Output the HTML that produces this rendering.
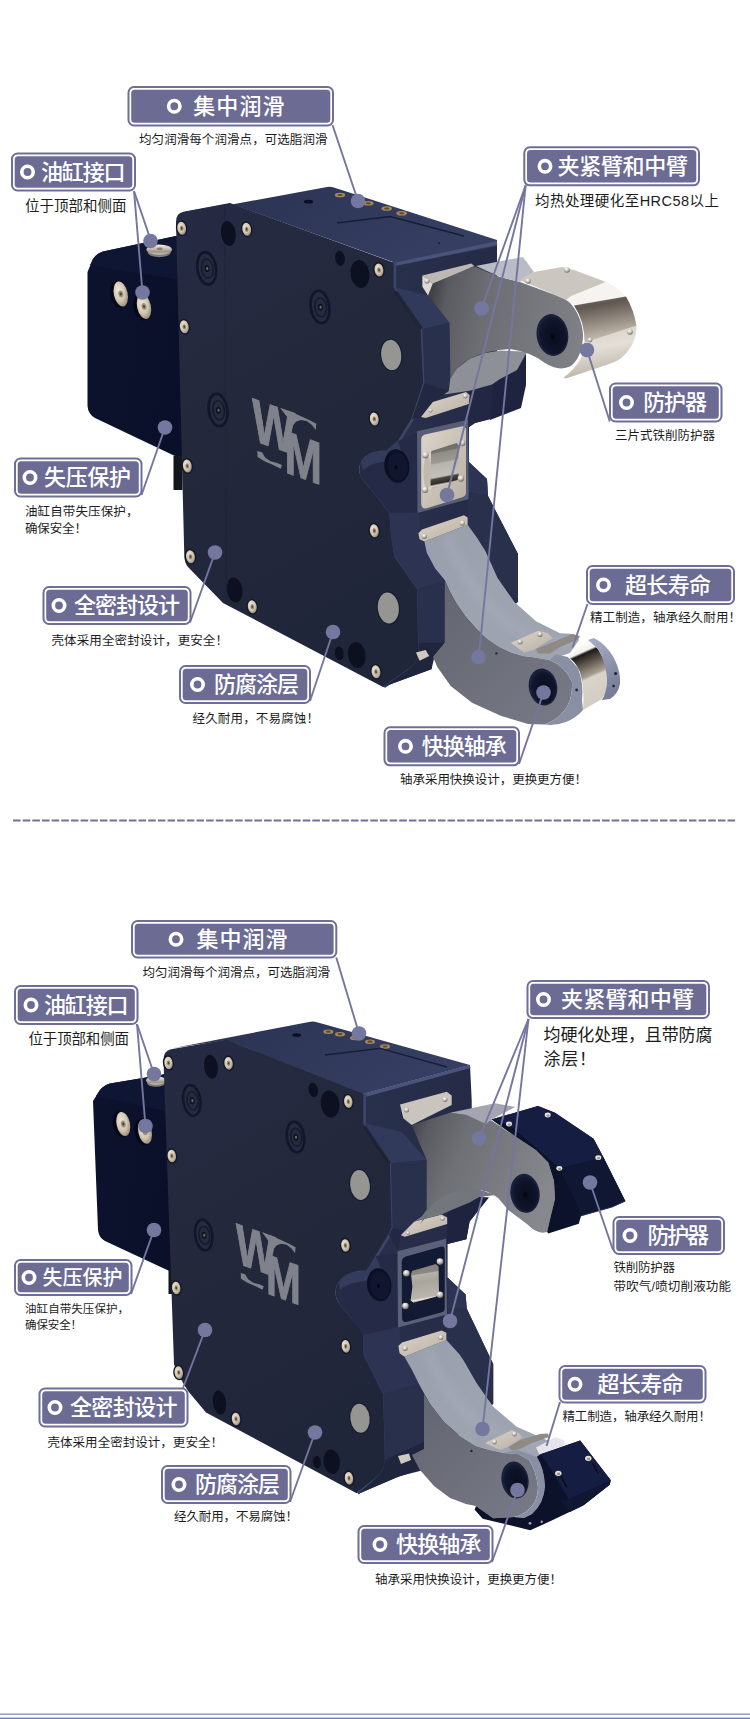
<!DOCTYPE html>
<html lang="zh"><head><meta charset="utf-8"><title>WM</title>
<style>
html,body{margin:0;padding:0;background:#fff}
body{width:750px;height:1719px;overflow:hidden;font-family:"Liberation Sans","Noto Sans CJK SC",sans-serif}
svg{display:block}
svg text{font-family:"Liberation Sans","Noto Sans CJK SC",sans-serif}
</style></head><body>
<svg width="750" height="1719" viewBox="0 0 750 1719">
<defs>
<linearGradient id="gFront" x1="0" y1="0" x2="0.3" y2="1">
 <stop offset="0" stop-color="#252b43"/><stop offset="0.5" stop-color="#23283b"/><stop offset="1" stop-color="#20263a"/>
</linearGradient>
<linearGradient id="gTop" x1="0" y1="0" x2="1" y2="0.3">
 <stop offset="0" stop-color="#293150"/><stop offset="1" stop-color="#363f62"/>
</linearGradient>
<linearGradient id="gSide" x1="0" y1="0" x2="1" y2="0">
 <stop offset="0" stop-color="#2a314e"/><stop offset="1" stop-color="#242a44"/>
</linearGradient>
<linearGradient id="gBlock" x1="0" y1="0" x2="1" y2="0.4">
 <stop offset="0" stop-color="#0d132e"/><stop offset="1" stop-color="#0a1029"/>
</linearGradient>
<linearGradient id="gSilverV" x1="0" y1="0" x2="0" y2="1">
 <stop offset="0" stop-color="#f4f1ec"/><stop offset="0.35" stop-color="#cfc8be"/><stop offset="0.7" stop-color="#9d9489"/><stop offset="1" stop-color="#c9c2b8"/>
</linearGradient>
<linearGradient id="gSilverH" x1="0" y1="0" x2="1" y2="0">
 <stop offset="0" stop-color="#8d857b"/><stop offset="0.3" stop-color="#e9e5de"/><stop offset="0.7" stop-color="#b9b1a6"/><stop offset="1" stop-color="#847b70"/>
</linearGradient>
<linearGradient id="gPlate" x1="0" y1="0" x2="1" y2="1">
 <stop offset="0" stop-color="#ddd5cb"/><stop offset="1" stop-color="#b9afa3"/>
</linearGradient>
<radialGradient id="gScrew" cx="0.4" cy="0.35" r="0.7">
 <stop offset="0" stop-color="#efe6d6"/><stop offset="0.6" stop-color="#d3c6b0"/><stop offset="1" stop-color="#8f8572"/>
</radialGradient>
<radialGradient id="gBall" cx="0.4" cy="0.3" r="0.7">
 <stop offset="0" stop-color="#ffffff"/><stop offset="0.5" stop-color="#c9c5bf"/><stop offset="1" stop-color="#6e6a66"/>
</radialGradient>
<linearGradient id="gArmU" gradientUnits="userSpaceOnUse" x1="430" y1="300" x2="585" y2="330">
 <stop offset="0" stop-color="#3f4147"/><stop offset="0.1" stop-color="#5a5c62"/><stop offset="0.35" stop-color="#6c6e74"/><stop offset="1" stop-color="#7f8187"/>
</linearGradient>
<linearGradient id="gArmL" x1="0" y1="0" x2="1" y2="1">
 <stop offset="0" stop-color="#9a9fad"/><stop offset="0.5" stop-color="#9ea3b0"/><stop offset="1" stop-color="#9fa4b1"/>
</linearGradient>
<linearGradient id="gArmLF" x1="0" y1="0" x2="1" y2="1">
 <stop offset="0" stop-color="#62656f"/><stop offset="1" stop-color="#787b87"/>
</linearGradient>
<radialGradient id="gHole" cx="0.55" cy="0.55" r="0.6">
 <stop offset="0" stop-color="#0a0d1c"/><stop offset="0.7" stop-color="#0f142b"/><stop offset="1" stop-color="#151b36"/>
</radialGradient>
<filter id="soft" x="-5%" y="-5%" width="110%" height="110%"><feGaussianBlur stdDeviation="0.6"/></filter>
<filter id="soft2" x="-10%" y="-10%" width="120%" height="120%"><feGaussianBlur stdDeviation="1.5"/></filter>
<linearGradient id="gGuardD" x1="0" y1="0" x2="0.25" y2="1">
 <stop offset="0" stop-color="#8a8078"/><stop offset="0.25" stop-color="#5f564f"/><stop offset="0.7" stop-color="#9e958b"/><stop offset="1" stop-color="#c9c1b7"/>
</linearGradient>
<linearGradient id="gGuardL" x1="0" y1="0" x2="0.25" y2="1">
 <stop offset="0" stop-color="#d3ccc2"/><stop offset="0.5" stop-color="#e4dfd7"/><stop offset="1" stop-color="#bdb5aa"/>
</linearGradient>
<linearGradient id="gRoll" x1="0" y1="0" x2="0.12" y2="1">
 <stop offset="0" stop-color="#6a6965"/><stop offset="0.22" stop-color="#73726d"/><stop offset="0.25" stop-color="#8f8d87"/><stop offset="0.45" stop-color="#9c9a93"/><stop offset="0.48" stop-color="#b7b4ad"/><stop offset="0.76" stop-color="#c3c0b8"/><stop offset="0.8" stop-color="#4a4640"/><stop offset="0.9" stop-color="#2f2c28"/><stop offset="0.94" stop-color="#d8d4cc"/><stop offset="1" stop-color="#a59f95"/>
</linearGradient>
<linearGradient id="gRoll2" x1="0.2" y1="0" x2="0.45" y2="1">
 <stop offset="0" stop-color="#ffffff"/><stop offset="0.2" stop-color="#f4f2ee"/><stop offset="0.235" stop-color="#1e1a17"/><stop offset="0.42" stop-color="#6f665d"/><stop offset="0.56" stop-color="#a89f94"/><stop offset="0.6" stop-color="#d9d3ca"/><stop offset="1" stop-color="#d2cbc1"/>
</linearGradient>
<linearGradient id="gCap" x1="0" y1="0" x2="0.3" y2="1">
 <stop offset="0" stop-color="#a9b0c6"/><stop offset="1" stop-color="#767e98"/>
</linearGradient>
<filter id="soft3" x="-20%" y="-20%" width="140%" height="140%"><feGaussianBlur stdDeviation="4"/></filter>
<clipPath id="clipArmL1"><path d="M424.4,541.6 L467.6,524.8 L477.2,538 L485.6,551.6 L497.6,578 L514.4,602 L536,621.2 L560,633.2 L574,634 L579,640 L570,653 L549.3,660 L533.3,657.3 L523.3,656 L510,652 L499.3,646.7 L487.3,638.7 L476.7,629.3 L466,617.3 L456.7,604 L450,592 L444.8,580 L435.2,568.4 L426.8,552.8 Z"/></clipPath>
<linearGradient id="gFront2" x1="0" y1="0" x2="0.3" y2="1">
 <stop offset="0" stop-color="#252b43"/><stop offset="0.5" stop-color="#23283b"/><stop offset="1" stop-color="#20263a"/>
</linearGradient>
<linearGradient id="gTop2" x1="0" y1="0" x2="1" y2="0.3">
 <stop offset="0" stop-color="#293150"/><stop offset="1" stop-color="#363f62"/>
</linearGradient>
<linearGradient id="gSide2" x1="0" y1="0" x2="1" y2="0">
 <stop offset="0" stop-color="#2a314e"/><stop offset="1" stop-color="#242a44"/>
</linearGradient>
<linearGradient id="gArmU2" gradientUnits="userSpaceOnUse" x1="410" y1="1130" x2="550" y2="1190">
 <stop offset="0" stop-color="#3f4147"/><stop offset="0.1" stop-color="#595b61"/><stop offset="0.35" stop-color="#6e7076"/><stop offset="1" stop-color="#86888e"/>
</linearGradient>
<linearGradient id="gRollB" x1="0" y1="0" x2="0.12" y2="1">
 <stop offset="0" stop-color="#82807a"/><stop offset="0.28" stop-color="#8a8882"/><stop offset="0.31" stop-color="#b5b2aa"/><stop offset="0.5" stop-color="#a8a59c"/><stop offset="0.9" stop-color="#bab6ad"/><stop offset="0.95" stop-color="#e8e5df"/><stop offset="1" stop-color="#8f8b83"/>
</linearGradient>

</defs>
<rect width="750" height="1719" fill="#fff"/>
<g id="m1">
<path d="M87.5,272 L87.5,406 Q88,414 95,418 L177,457 L186,461 L186,233 L176,236 L103,251.5 Q97,253 93,259 Z" fill="url(#gBlock)" />
<path d="M90,265 L93,259 Q97,253 103,251.5 L176,236 L186,234 L186,281 Z" fill="#0f1633" />
<rect x="173.5" y="456" width="9" height="34" fill="#15151c"/>
<g transform="translate(120.8,294) rotate(-12)"><ellipse cx="-2.2" cy="0" rx="8.4" ry="13.6" fill="#050818"/><ellipse rx="6.9" ry="12.8" fill="url(#gScrew)"/><ellipse rx="2.4" ry="3.6" fill="#9a917f"/><ellipse rx="1.1" ry="1.6" fill="#4a443a"/></g>
<g transform="translate(144,306.5) rotate(-12)"><ellipse cx="-2.2" cy="0" rx="8.4" ry="13.6" fill="#050818"/><ellipse rx="6.9" ry="12.8" fill="url(#gScrew)"/><ellipse rx="2.4" ry="3.6" fill="#9a917f"/><ellipse rx="1.1" ry="1.6" fill="#4a443a"/></g>
<g transform="translate(159.2,249.6)"><ellipse cx="0" cy="3" rx="11.5" ry="4.6" fill="#7f7a75"/><ellipse rx="12.8" ry="5.2" fill="url(#gSilverV)"/><ellipse cx="0.5" cy="-0.8" rx="3" ry="1.3" fill="#8a7f70"/></g>
<path d="M393,262 L497,245 L497,380 L492,396 L490.5,419 L475,423 L469,427 L469,462 L487,479 L488,496 L518,554 L518,602 L470,642 L445,643 L435,655 L431.5,669 L383,687 L360,600 L360,300 Z" fill="url(#gSide)" />
<path d="M496,351 L526,352 L526,385 L521,408 L490,420 L490,380 Z" fill="#1e2440" />
<path d="M178,214.5 L327,187 Q330,186.3 333,187.2 L497,240 L497,246 L393,266 L393,262 L230,203.5 L186,211.5 Z" fill="url(#gTop)" />
<path d="M393.5,264.6 L497,243" fill="none" stroke="#4a537a" stroke-width="3.4"/>
<path d="M176,222 Q176,213.2 183.5,211.8 L230,203 L393.5,262.5 L393.6,287 L420.8,330 L423.2,383 L411.5,419 L398,441 L386,451.5 Q366,452 361,462 Q357,472 363,480 L376.5,496 L389.5,513 L391,534.5 L394.4,556.4 L417.2,588.8 L418.4,652 Q418,662 409,669 L383,687 L223,603 L188,567 Q184.5,563 184.3,556 Z" fill="url(#gFront)" />
<path d="M393.8,262.5 L393.6,287 L420.8,330 L423.2,383 L411.5,419 L398,441 L386,451.5 Q366,452 361,462 Q357,472 363,480 L376.5,496 L389.5,513 L391,534.5 L394.4,556.4 L417.2,588.8 L418.4,652 Q418,662 409,669 L383,687" fill="none" stroke="#3d4668" stroke-width="2.6" stroke-linejoin="round" transform="translate(1.2,0)"/>
<path d="M224.5,205 L226.5,604" fill="none" stroke="#1b2033" stroke-width="1" opacity="0.35"/>
<g transform="translate(181.7,228.3) rotate(-8)"><ellipse rx="5.800000000000001" ry="8.0" fill="#12172b"/><ellipse rx="4.4" ry="6.6" fill="url(#gScrew)"/><ellipse rx="1.85" ry="2.77" fill="#9a8f7c"/><ellipse rx="0.88" ry="1.32" fill="#4d463b"/></g>
<g transform="translate(246.7,229.2) rotate(-8)"><ellipse rx="5.800000000000001" ry="8.0" fill="#12172b"/><ellipse rx="4.4" ry="6.6" fill="url(#gScrew)"/><ellipse rx="1.85" ry="2.77" fill="#9a8f7c"/><ellipse rx="0.88" ry="1.32" fill="#4d463b"/></g>
<g transform="translate(184.3,326.7) rotate(-8)"><ellipse rx="5.800000000000001" ry="8.0" fill="#12172b"/><ellipse rx="4.4" ry="6.6" fill="url(#gScrew)"/><ellipse rx="1.85" ry="2.77" fill="#9a8f7c"/><ellipse rx="0.88" ry="1.32" fill="#4d463b"/></g>
<g transform="translate(379,270) rotate(-8)"><ellipse rx="5.800000000000001" ry="8.0" fill="#12172b"/><ellipse rx="4.4" ry="6.6" fill="url(#gScrew)"/><ellipse rx="1.85" ry="2.77" fill="#9a8f7c"/><ellipse rx="0.88" ry="1.32" fill="#4d463b"/></g>
<g transform="translate(374.3,419) rotate(-8)"><ellipse rx="5.800000000000001" ry="8.0" fill="#12172b"/><ellipse rx="4.4" ry="6.6" fill="url(#gScrew)"/><ellipse rx="1.85" ry="2.77" fill="#9a8f7c"/><ellipse rx="0.88" ry="1.32" fill="#4d463b"/></g>
<g transform="translate(187.3,466) rotate(-8)"><ellipse rx="5.800000000000001" ry="8.0" fill="#12172b"/><ellipse rx="4.4" ry="6.6" fill="url(#gScrew)"/><ellipse rx="1.85" ry="2.77" fill="#9a8f7c"/><ellipse rx="0.88" ry="1.32" fill="#4d463b"/></g>
<g transform="translate(190.5,556.7) rotate(-8)"><ellipse rx="5.800000000000001" ry="8.0" fill="#12172b"/><ellipse rx="4.4" ry="6.6" fill="url(#gScrew)"/><ellipse rx="1.85" ry="2.77" fill="#9a8f7c"/><ellipse rx="0.88" ry="1.32" fill="#4d463b"/></g>
<g transform="translate(252.3,606.7) rotate(-8)"><ellipse rx="5.800000000000001" ry="8.0" fill="#12172b"/><ellipse rx="4.4" ry="6.6" fill="url(#gScrew)"/><ellipse rx="1.85" ry="2.77" fill="#9a8f7c"/><ellipse rx="0.88" ry="1.32" fill="#4d463b"/></g>
<g transform="translate(374.3,530.7) rotate(-8)"><ellipse rx="5.800000000000001" ry="8.0" fill="#12172b"/><ellipse rx="4.4" ry="6.6" fill="url(#gScrew)"/><ellipse rx="1.85" ry="2.77" fill="#9a8f7c"/><ellipse rx="0.88" ry="1.32" fill="#4d463b"/></g>
<g transform="translate(376,671.8) rotate(-8)"><ellipse rx="5.800000000000001" ry="8.0" fill="#12172b"/><ellipse rx="4.4" ry="6.6" fill="url(#gScrew)"/><ellipse rx="1.85" ry="2.77" fill="#9a8f7c"/><ellipse rx="0.88" ry="1.32" fill="#4d463b"/></g>
<g transform="translate(206.7,268.3) rotate(-8)"><ellipse rx="9.3" ry="16.3" fill="#262b40" stroke="#12162a" stroke-width="2.6"/><ellipse cx="0.6" cy="0.4" rx="5.78" ry="9.62" fill="none" stroke="#171b2e" stroke-width="1.7"/><ellipse cx="0.3" cy="0.3" rx="2.5" ry="3.6" fill="#0f1222"/><ellipse cx="0.5" cy="0.3" rx="1.1" ry="1.6" fill="#6f6b58"/></g>
<g transform="translate(320,307) rotate(-8)"><ellipse rx="9.3" ry="16.3" fill="#262b40" stroke="#12162a" stroke-width="2.6"/><ellipse cx="0.6" cy="0.4" rx="5.78" ry="9.62" fill="none" stroke="#171b2e" stroke-width="1.7"/><ellipse cx="0.3" cy="0.3" rx="2.5" ry="3.6" fill="#0f1222"/><ellipse cx="0.5" cy="0.3" rx="1.1" ry="1.6" fill="#6f6b58"/></g>
<g transform="translate(218,410) rotate(-8)"><ellipse rx="9.3" ry="16.3" fill="#262b40" stroke="#12162a" stroke-width="2.6"/><ellipse cx="0.6" cy="0.4" rx="5.78" ry="9.62" fill="none" stroke="#171b2e" stroke-width="1.7"/><ellipse cx="0.3" cy="0.3" rx="2.5" ry="3.6" fill="#0f1222"/><ellipse cx="0.5" cy="0.3" rx="1.1" ry="1.6" fill="#6f6b58"/></g>
<ellipse cx="228.3" cy="233.5" rx="7.3" ry="12.5" transform="rotate(-8 228.3 233.5)" fill="#0c1020"/>
<ellipse cx="340" cy="258.3" rx="4.8" ry="7.5" transform="rotate(-8 340 258.3)" fill="#0c1020"/>
<ellipse cx="360" cy="274" rx="9.5" ry="14" transform="rotate(-8 360 274)" fill="#0c1020"/>
<ellipse cx="234.7" cy="590" rx="7.8" ry="12.5" transform="rotate(-8 234.7 590)" fill="#0c1020"/>
<ellipse cx="339.3" cy="653.3" rx="4.3" ry="6.8" transform="rotate(-8 339.3 653.3)" fill="#0c1020"/>
<ellipse cx="356.7" cy="655" rx="8.8" ry="13" transform="rotate(-8 356.7 655)" fill="#0c1020"/>
<g transform="translate(391.2,355) rotate(-6)"><ellipse rx="11.2" ry="16.4" fill="#171c30"/><ellipse rx="10" ry="15.2" fill="#959592"/></g>
<g transform="translate(388.3,608) rotate(-6)"><ellipse rx="11.7" ry="16.7" fill="#171c30"/><ellipse rx="10.5" ry="15.5" fill="#959592"/></g>
<g fill="#80828b" stroke="#80828b" stroke-width="0.9" stroke-linejoin="round"><text transform="translate(252.3,440) skewY(19.5) scale(0.91,1.21)" font-family="Liberation Sans,sans-serif" font-weight="700" font-size="50" x="0" y="0">W</text><text transform="translate(284.5,472) skewY(19.5) scale(0.9,1.2)" font-family="Liberation Sans,sans-serif" font-weight="700" font-size="50" x="0" y="0">M</text><path d="M280,407.7 L289.3,411 L300,415.7 L309.3,420 L316.3,423.7 L315.7,430 L312,425 L306.7,421 L300.7,420 L296,421.7 L293.3,425 Z" stroke="none"/><path d="M257.3,451 L257.6,457 L264,461 L273.3,465 L280.7,468.7 L282,465 L277.3,463 L270.7,461.3 L265.3,457.7 L262,452.3 Z" stroke="none"/></g>
<ellipse cx="308.5" cy="201.7" rx="4.6" ry="1.9" fill="#0b0f22"/>
<ellipse cx="340" cy="195" rx="5.2" ry="2.3" fill="#a5875a"/><ellipse cx="340" cy="195" rx="2.6" ry="1.1" fill="#5e4a2c"/>
<ellipse cx="368.3" cy="203.3" rx="5.2" ry="2.3" fill="#a5875a"/><ellipse cx="368.3" cy="203.3" rx="2.6" ry="1.1" fill="#5e4a2c"/>
<ellipse cx="386.7" cy="208.5" rx="5.2" ry="2.3" fill="#a5875a"/><ellipse cx="386.7" cy="208.5" rx="2.6" ry="1.1" fill="#5e4a2c"/>
<ellipse cx="401.7" cy="213.3" rx="5.2" ry="2.3" fill="#a5875a"/><ellipse cx="401.7" cy="213.3" rx="2.6" ry="1.1" fill="#5e4a2c"/>
<path d="M337,223 L390,216.5 L464,236" fill="none" stroke="#171d38" stroke-width="1.3"/>
<circle cx="439" cy="243" r="0.9" fill="#141a33"/>
<path d="M395.2,287.6 L428,295.6 L449.6,322.8 L422.4,329.2 Z" fill="#323a5c" />
<path d="M422.4,329.2 L449.6,322.8 L450.4,378 L448.8,391 L424.4,383 Z" fill="#28304c" />
<path d="M395.6,291.5 L421.5,329" stroke="#1c2031" stroke-width="3.6" fill="none" opacity="0.8"/>
<path d="M424.4,383 L448.8,391 L433,402 L421,417 L412,419 Z" fill="#222842" />
<path d="M466,392 L492,384 L492,392 L490.5,419 L475,423 L469,427 L468.8,404 Z" fill="#222843" />
<path d="M421,417 L432.8,402 L466,392 L469.6,395 L468.8,404 L425.6,418 Z" fill="url(#gPlate)" />
<circle cx="465.4" cy="396" r="2.4" fill="url(#gBall)"/>
<circle cx="430.5" cy="410.5" r="2.0" fill="url(#gBall)"/>
<path d="M450.4,378 L456.8,368.4 L469.6,358.8 L484,353.2 L500,350.5 L527,352 L517,370 L500,379 L492,384.4 L469.6,390.8 L444,394.5 L448.8,391 Z" fill="#8e9097" />
<path d="M428,295.6 L432.8,283.6 L453.6,274 L474.4,266.4 L500,277 L520,282 L566,299 Q581,312 583,334 Q583,356 571,366 Q559,372 545,363 Q531,352 510,349 Q487,350 469,359 Q457,366 450.4,379 L449.6,322.8 Z" fill="url(#gArmU)" />
<path d="M476,266 L500,261.2 L523,257 L534,272 L520,282 L500,276.8 L487,271 Z" fill="#b9bcc7" />
<path d="M422.4,275.6 L471.2,263.6 L474.4,266 L432.8,283.6 Z" fill="#bdb8b1" />
<path d="M422.4,275.6 L432.8,283.6 L428,295.6 L422.4,286.8 Z" fill="#dedad3" />
<circle cx="427" cy="281" r="2.6" fill="url(#gBall)"/>
<ellipse cx="552.4" cy="335" rx="15.8" ry="21" transform="rotate(-8 552.4 335)" fill="#1a2038"/>
<ellipse cx="552.8" cy="335.5" rx="13.8" ry="18.8" transform="rotate(-8 552.8 335.5)" fill="url(#gHole)"/>
<ellipse cx="552.6" cy="336.6" rx="2" ry="2.8" fill="#05070f"/>
<path d="M519,280 L534,272 L562,267 L574,270 L606,282 L571,297 L566,300 L546,291 Z" fill="#cbc7c0" />
<path d="M566,300 L571,296 L606,282 Q618,287 626,297 L580,311 Q575,305 566,300 Z" fill="#f6f4f0" />
<path d="M574,305.5 L626,296.5 Q634,310 636.5,326 L628,330 L584.5,343 Q585,322 574,305.5 Z" fill="url(#gGuardD)" />
<path d="M584.5,342.5 L636.5,325.5 Q637,340 628,351 Q621,360 612,363 L566,378.5 L563.5,377.5 Q574,370 580,360 Q584,352 584.5,342.5 Z" fill="url(#gGuardL)" />
<circle cx="528" cy="281" r="2.8" fill="url(#gBall)"/>
<circle cx="567" cy="270" r="2.8" fill="url(#gBall)"/>
<circle cx="630" cy="332" r="2.8" fill="url(#gBall)"/>
<circle cx="590" cy="340" r="2.4" fill="url(#gBall)"/>
<path d="M386,451.5 Q366,452 361,462 Q357,472 363,480 L376.5,496 L389.5,513 L420,512 L420,432 L398,441 Z" fill="#252b47" />
<path d="M386,451.5 Q366,452 361,462 L363,470 Q372,462 390,461 L402,455 L398,441 Z" fill="#343c5e" />
<ellipse cx="396.8" cy="466" rx="12.5" ry="16.8" transform="rotate(-8 396.8 466)" fill="#0c1024"/>
<ellipse cx="397.8" cy="466.5" rx="10" ry="14" transform="rotate(-8 397.8 466.5)" fill="#11162e"/>
<ellipse cx="396" cy="467" rx="1.5" ry="2.1" fill="#05070f"/>
<path d="M417,431.3 L468,419.7 L469,499 L417.5,513 Z" fill="#555c74" />
<path d="M421.2,439.3 Q421.5,435.5 425,434.6 L462.3,426.2 Q466,425.8 466,430 L466,492.5 Q466,496.3 462.3,497.2 L426,508.4 Q421.5,509 421.2,503.7 Z" fill="url(#gPlate)" />
<path d="M422,454.2 L432.4,452.4 L432.9,487.9 L422,492.6 Z" fill="#d9d1c7" />
<ellipse cx="427.3" cy="472.5" rx="4" ry="16" fill="#c2b9ae"/>
<path d="M431.5,451 L456.7,443 L458.6,445 L458.6,478.5 L456.7,480.4 L432.4,488.8 L430.5,487 L431,452.4 Z" fill="url(#gRoll)" />
<circle cx="425.4" cy="455.2" r="3.2" fill="url(#gBall)"/>
<circle cx="462.3" cy="443" r="3.2" fill="url(#gBall)"/>
<circle cx="425" cy="489.8" r="3.2" fill="url(#gBall)"/>
<circle cx="460.9" cy="478.5" r="3.2" fill="url(#gBall)"/>
<path d="M468.8,462 L487,479 L488,496 L468.8,492.4 Z" fill="#2d3453" />
<path d="M468.8,492.4 L488,496 L518,554 L518,602 L498.8,580 L477.2,538 L467.6,524.8 L467.6,517.6 Z" fill="#29304c" />
<path d="M389.5,513 L418.4,512.8 L420.8,539.6 L431.6,552.8 L444.8,581.6 L417.2,588.8 L394.4,556.4 L391,534.5 Z" fill="#2d3453" />
<path d="M417.2,588.8 L444.8,581.6 L444.8,642.8 L418.4,642.8 Z" fill="#29304c" />
<path d="M418.4,642.8 L444.8,642.8 L433,657 L431.6,669.2 L383,687 L409,669 Q418,662 418.4,652 Z" fill="#1f253d" />
<path d="M416,652.4 L425.6,650 L429.2,656 L419.6,660.8 Z" fill="#cfc9c0" />
<path d="M424.4,541.6 L467.6,524.8 L477.2,538 L485.6,551.6 L497.6,578 L514.4,602 L536,621.2 L560,633.2 L574,634 L579,640 L570,653 L549.3,660 L533.3,657.3 L523.3,656 L510,652 L499.3,646.7 L487.3,638.7 L476.7,629.3 L466,617.3 L456.7,604 L450,592 L444.8,580 L435.2,568.4 L426.8,552.8 Z" fill="url(#gArmL)" />
<path d="M446,536 Q470,590 500,618 Q530,640 575,643" fill="none" stroke="#b9bdca" stroke-width="12" opacity="0.18" filter="url(#soft3)" clip-path="url(#clipArmL1)"/>
<path d="M444.8,580 L450,592 L456.7,604 L466,617.3 L476.7,629.3 L487.3,638.7 L499.3,646.7 L510,652 L523.3,656 L533.3,657.3 L549.3,660 Q565,666 572,682 Q573,700 564,711 Q556,721 544,724.5 L528,724 L501.3,716 L472,702.7 L450.7,686 L437.3,667 L433,657 L444.8,642.8 Z" fill="url(#gArmLF)" />
<path d="M549.3,660 L556,654.5 L568,657 L578,668 Q584,684 582,700 L583,710 Q576,718 566,722 Q556,726 544,724.5 Q556,721 564,711 Q573,700 572,682 Q565,666 549.3,660 Z" fill="#8a90a4" />
<ellipse cx="543" cy="687" rx="14.2" ry="18.5" transform="rotate(-10 543 687)" fill="#1a2038"/>
<ellipse cx="543.6" cy="687.6" rx="12.2" ry="16.3" transform="rotate(-10 543.6 687.6)" fill="url(#gHole)"/>
<circle cx="496.4" cy="653.4" r="1.2" fill="#20253a"/><circle cx="576.6" cy="690" r="1.4" fill="#20253a"/>
<path d="M418.4,533.2 L422,529.6 L464,515.2 L467.6,517.6 L467.6,524.8 L424.4,541.6 L419.6,539.2 Z" fill="url(#gPlate)" />
<circle cx="424.4" cy="536.3" r="2.6" fill="url(#gBall)"/>
<circle cx="462.3" cy="523.1" r="2.6" fill="url(#gBall)"/>
<path d="M568,657 L588,640 L598,649 L605,662 L607,678 L606,692 L602,699 L583,710 Q585,690 580,672 Q576,662 568,657 Z" fill="url(#gRoll2)" />
<path d="M588,640 L594,638 Q606,644 614,658 Q621,672 620,684 Q618,694 610,699 L602,700 Q607,692 607,678 Q605,660 598,649 Z" fill="url(#gCap)" />
<circle cx="615.6" cy="673.6" r="1.5" fill="#1a1f33"/><circle cx="613.6" cy="686" r="1.3" fill="#1a1f33"/>
<path d="M536,649 L556,641 L572,634 L580,636 L578,639.5 L560,647 L550,653.5 L538,653.5 Z" fill="#8f8a85" />
<path d="M510.8,642.8 L538.4,630.8 L548,633.2 L552.8,638 L533.6,650 L524,652.4 Z" fill="url(#gPlate)" />
<circle cx="520" cy="642" r="2.5" fill="url(#gBall)"/>
<circle cx="540" cy="634.4" r="2.5" fill="url(#gBall)"/>

</g>
<g id="m2">
<path d="M93,1101 L98,1230 Q99,1238 105,1241 L165,1269 L174,1273 L168,1073 L161,1075 L110,1083.5 Q104,1085 100,1090 Z" fill="url(#gBlock)" />
<path d="M96,1096 L100,1090 Q104,1085 110,1083.5 L161,1075 L168,1073.5 L169,1112 Z" fill="#0f1633" />
<rect x="168.5" y="1270" width="4" height="24" fill="#15151c"/>
<g transform="translate(123.3,1124) rotate(-12)"><ellipse cx="-2.2" cy="0" rx="8.2" ry="13.2" fill="#050818"/><ellipse rx="6.7" ry="12.3" fill="url(#gScrew)"/><ellipse rx="2.4" ry="3.6" fill="#9a917f"/><ellipse rx="1.1" ry="1.6" fill="#4a443a"/></g>
<g transform="translate(145,1131.7) rotate(-12)"><ellipse cx="-2.2" cy="0" rx="8.2" ry="13.2" fill="#050818"/><ellipse rx="6.7" ry="12.3" fill="url(#gScrew)"/><ellipse rx="2.4" ry="3.6" fill="#9a917f"/><ellipse rx="1.1" ry="1.6" fill="#4a443a"/></g>
<g transform="translate(156,1080.5)"><ellipse cx="0" cy="2.5" rx="9" ry="3.8" fill="#7f7a75"/><ellipse rx="10" ry="4.2" fill="url(#gSilverV)"/></g>
<path d="M363.3,1094 L470,1065 L471.7,1100 L472,1200 L488.8,1197.6 L469.6,1221.6 L466.4,1239.2 L447.6,1244 L447.6,1277.6 L465.6,1294.4 L466.8,1308.8 L493.2,1364 L493.2,1404 L450,1442 L424,1442 L424,1470 L398,1476.5 L358,1494 L340,1400 L340,1120 Z" fill="url(#gSide2)" />
<path d="M166,1049.5 L309,1022 Q313,1021 317,1022.3 L470,1065 L363.3,1094 L226.7,1040 L171,1048.5 Z" fill="url(#gTop2)" />
<path d="M363.8,1095.6 L470,1066.5" fill="none" stroke="#4a537a" stroke-width="3.2"/>
<path d="M163.5,1060 Q163.5,1051 171,1049.3 L226.7,1039.6 L363.3,1093.5 L363.3,1123.3 L390,1163.3 L391.7,1228 L388.8,1234.4 L375.6,1256 L366,1271.6 Q346,1272 339,1282 Q332,1292 339,1303 L351.6,1318.4 L360,1328 L363.6,1335.2 L363.6,1354.4 L383.3,1394 L385,1460 Q384.5,1470 376,1478 L356.7,1493.3 L206,1412.4 L188.4,1391.6 Q176,1372 174,1364 Z" fill="url(#gFront2)" />
<path d="M363.6,1093.5 L363.3,1123.3 L390,1163.3 L391.7,1228 L388.8,1234.4 L375.6,1256 L366,1271.6 Q346,1272 339,1282 Q332,1292 339,1303 L351.6,1318.4 L360,1328 L363.6,1335.2 L363.6,1354.4 L383.3,1394 L385,1460 Q384.5,1470 376,1478 L356.7,1493.3" fill="none" stroke="#3d4668" stroke-width="2.6" stroke-linejoin="round" transform="translate(1.2,0)"/>
<g transform="translate(168.5,1063) rotate(-8)"><ellipse rx="5.6" ry="7.800000000000001" fill="#12172b"/><ellipse rx="4.2" ry="6.4" fill="url(#gScrew)"/><ellipse rx="1.76" ry="2.69" fill="#9a8f7c"/><ellipse rx="0.84" ry="1.28" fill="#4d463b"/></g>
<g transform="translate(228.6,1063.3) rotate(-8)"><ellipse rx="5.6" ry="7.800000000000001" fill="#12172b"/><ellipse rx="4.2" ry="6.4" fill="url(#gScrew)"/><ellipse rx="1.76" ry="2.69" fill="#9a8f7c"/><ellipse rx="0.84" ry="1.28" fill="#4d463b"/></g>
<g transform="translate(171.8,1156) rotate(-8)"><ellipse rx="5.6" ry="7.800000000000001" fill="#12172b"/><ellipse rx="4.2" ry="6.4" fill="url(#gScrew)"/><ellipse rx="1.76" ry="2.69" fill="#9a8f7c"/><ellipse rx="0.84" ry="1.28" fill="#4d463b"/></g>
<g transform="translate(348.3,1101.7) rotate(-8)"><ellipse rx="5.6" ry="7.800000000000001" fill="#12172b"/><ellipse rx="4.2" ry="6.4" fill="url(#gScrew)"/><ellipse rx="1.76" ry="2.69" fill="#9a8f7c"/><ellipse rx="0.84" ry="1.28" fill="#4d463b"/></g>
<g transform="translate(345.4,1245.5) rotate(-8)"><ellipse rx="5.6" ry="7.800000000000001" fill="#12172b"/><ellipse rx="4.2" ry="6.4" fill="url(#gScrew)"/><ellipse rx="1.76" ry="2.69" fill="#9a8f7c"/><ellipse rx="0.84" ry="1.28" fill="#4d463b"/></g>
<g transform="translate(176.2,1288) rotate(-8)"><ellipse rx="5.6" ry="7.800000000000001" fill="#12172b"/><ellipse rx="4.2" ry="6.4" fill="url(#gScrew)"/><ellipse rx="1.76" ry="2.69" fill="#9a8f7c"/><ellipse rx="0.84" ry="1.28" fill="#4d463b"/></g>
<g transform="translate(178.8,1372.6) rotate(-8)"><ellipse rx="5.6" ry="7.800000000000001" fill="#12172b"/><ellipse rx="4.2" ry="6.4" fill="url(#gScrew)"/><ellipse rx="1.76" ry="2.69" fill="#9a8f7c"/><ellipse rx="0.84" ry="1.28" fill="#4d463b"/></g>
<g transform="translate(236,1419) rotate(-8)"><ellipse rx="5.6" ry="7.800000000000001" fill="#12172b"/><ellipse rx="4.2" ry="6.4" fill="url(#gScrew)"/><ellipse rx="1.76" ry="2.69" fill="#9a8f7c"/><ellipse rx="0.84" ry="1.28" fill="#4d463b"/></g>
<g transform="translate(345.8,1346.4) rotate(-8)"><ellipse rx="5.6" ry="7.800000000000001" fill="#12172b"/><ellipse rx="4.2" ry="6.4" fill="url(#gScrew)"/><ellipse rx="1.76" ry="2.69" fill="#9a8f7c"/><ellipse rx="0.84" ry="1.28" fill="#4d463b"/></g>
<g transform="translate(349,1478.3) rotate(-8)"><ellipse rx="5.6" ry="7.800000000000001" fill="#12172b"/><ellipse rx="4.2" ry="6.4" fill="url(#gScrew)"/><ellipse rx="1.76" ry="2.69" fill="#9a8f7c"/><ellipse rx="0.84" ry="1.28" fill="#4d463b"/></g>
<g transform="translate(191.8,1100.4) rotate(-8)"><ellipse rx="8.600000000000001" ry="15.400000000000002" fill="#262b40" stroke="#12162a" stroke-width="2.6"/><ellipse cx="0.6" cy="0.4" rx="5.39" ry="9.13" fill="none" stroke="#171b2e" stroke-width="1.7"/><ellipse cx="0.3" cy="0.3" rx="2.5" ry="3.6" fill="#0f1222"/><ellipse cx="0.5" cy="0.3" rx="1.1" ry="1.6" fill="#6f6b58"/></g>
<g transform="translate(295.5,1137) rotate(-8)"><ellipse rx="8.600000000000001" ry="15.400000000000002" fill="#262b40" stroke="#12162a" stroke-width="2.6"/><ellipse cx="0.6" cy="0.4" rx="5.39" ry="9.13" fill="none" stroke="#171b2e" stroke-width="1.7"/><ellipse cx="0.3" cy="0.3" rx="2.5" ry="3.6" fill="#0f1222"/><ellipse cx="0.5" cy="0.3" rx="1.1" ry="1.6" fill="#6f6b58"/></g>
<g transform="translate(203.7,1235) rotate(-8)"><ellipse rx="8.600000000000001" ry="15.400000000000002" fill="#262b40" stroke="#12162a" stroke-width="2.6"/><ellipse cx="0.6" cy="0.4" rx="5.39" ry="9.13" fill="none" stroke="#171b2e" stroke-width="1.7"/><ellipse cx="0.3" cy="0.3" rx="2.5" ry="3.6" fill="#0f1222"/><ellipse cx="0.5" cy="0.3" rx="1.1" ry="1.6" fill="#6f6b58"/></g>
<ellipse cx="211" cy="1066.7" rx="6.8" ry="12" transform="rotate(-8 211 1066.7)" fill="#0c1020"/>
<ellipse cx="313.3" cy="1090" rx="4.6" ry="7.3" transform="rotate(-8 313.3 1090)" fill="#0c1020"/>
<ellipse cx="330" cy="1104" rx="9.3" ry="13.6" transform="rotate(-8 330 1104)" fill="#0c1020"/>
<ellipse cx="219.5" cy="1402.5" rx="6.6" ry="12" transform="rotate(-8 219.5 1402.5)" fill="#0c1020"/>
<ellipse cx="316.9" cy="1462" rx="4" ry="6.4" transform="rotate(-8 316.9 1462)" fill="#0c1020"/>
<ellipse cx="331.7" cy="1461.7" rx="8.2" ry="12.4" transform="rotate(-8 331.7 1461.7)" fill="#0c1020"/>
<g transform="translate(360,1185) rotate(-6)"><ellipse rx="11.0" ry="16.2" fill="#171c30"/><ellipse rx="9.8" ry="15" fill="#959592"/></g>
<g transform="translate(360,1418.3) rotate(-6)"><ellipse rx="10.799999999999999" ry="15.799999999999999" fill="#171c30"/><ellipse rx="9.6" ry="14.6" fill="#959592"/></g>
<g transform="translate(237,1222) scale(0.93,0.945) translate(-253.3,-397)"><g fill="#80828b" stroke="#80828b" stroke-width="0.9" stroke-linejoin="round"><text transform="translate(252.3,440) skewY(19.5) scale(0.91,1.21)" font-family="Liberation Sans,sans-serif" font-weight="700" font-size="50" x="0" y="0">W</text><text transform="translate(284.5,472) skewY(19.5) scale(0.9,1.2)" font-family="Liberation Sans,sans-serif" font-weight="700" font-size="50" x="0" y="0">M</text><path d="M280,407.7 L289.3,411 L300,415.7 L309.3,420 L316.3,423.7 L315.7,430 L312,425 L306.7,421 L300.7,420 L296,421.7 L293.3,425 Z" stroke="none"/><path d="M257.3,451 L257.6,457 L264,461 L273.3,465 L280.7,468.7 L282,465 L277.3,463 L270.7,461.3 L265.3,457.7 L262,452.3 Z" stroke="none"/></g>
</g>
<ellipse cx="296.7" cy="1035" rx="4.4" ry="1.8" fill="#0b0f22"/>
<ellipse cx="328.3" cy="1031.7" rx="5" ry="2.2" fill="#a5875a"/><ellipse cx="328.3" cy="1031.7" rx="2.5" ry="1.1" fill="#5e4a2c"/>
<ellipse cx="340" cy="1034.2" rx="5" ry="2.2" fill="#a5875a"/><ellipse cx="340" cy="1034.2" rx="2.5" ry="1.1" fill="#5e4a2c"/>
<ellipse cx="355" cy="1038" rx="5" ry="2.2" fill="#a5875a"/><ellipse cx="355" cy="1038" rx="2.5" ry="1.1" fill="#5e4a2c"/>
<ellipse cx="370" cy="1041.7" rx="5" ry="2.2" fill="#a5875a"/><ellipse cx="370" cy="1041.7" rx="2.5" ry="1.1" fill="#5e4a2c"/>
<ellipse cx="385" cy="1046.5" rx="5" ry="2.2" fill="#a5875a"/><ellipse cx="385" cy="1046.5" rx="2.5" ry="1.1" fill="#5e4a2c"/>
<path d="M325,1055 L380,1048.3 L447,1067" fill="none" stroke="#171d38" stroke-width="1.3"/>
<path d="M364.5,1123.3 L401.7,1131.7 L426.7,1160 L391,1163.3 Z" fill="#323a5c" />
<path d="M391,1163.3 L426.7,1160 L426.7,1216.7 L416.7,1233.3 L392.5,1228 Z" fill="#28304c" />
<path d="M364.5,1126.5 L389.5,1163.5" stroke="#1c2031" stroke-width="3.4" fill="none" opacity="0.8"/>
<path d="M392.5,1228 L416.7,1233.3 L424.8,1212 L414.4,1221.6 L400.8,1235.2 L397.6,1250 L389,1235 Z" fill="#222842" />
<path d="M447.2,1210.4 L479.2,1196.8 L488.8,1197.6 L469.6,1221.6 L466.4,1239.2 L447.2,1244 Z" fill="#1e2440" />
<path d="M400.8,1235.2 L414.4,1221.6 L441.6,1214.4 L447.2,1217.6 L447.2,1224 L404.8,1236.8 Z" fill="url(#gPlate)" />
<circle cx="442.5" cy="1218.5" r="2.3" fill="url(#gBall)"/>
<circle cx="408" cy="1233" r="1.8" fill="url(#gBall)"/>
<path d="M422,1216 L431.7,1203 L450,1192 L476.7,1189 L496,1195 L479.2,1197 L469.6,1202.4 L450.4,1210.4 L441.6,1214.4 L414.4,1221.6 Z" fill="#74767e" />
<path d="M411.7,1125 L450,1112.7 L466.7,1115 L491.5,1120.6 L515.3,1136.5 L535.8,1150.1 L548.2,1162.6 L553.9,1180.7 L555,1198.8 L550.5,1217 L547.1,1231.7 Q538,1235.5 527,1224 L508.5,1210.2 L498.3,1198.3 Q488,1190 476.7,1190 L450,1192.7 Q438,1199 431.7,1205 L420,1224 L426.7,1216.7 L426.7,1160 Z" fill="url(#gArmU2)" />
<path d="M450,1112.7 L495,1103.3 L515.4,1107 L491.5,1119.5 L486,1124 L466.7,1115 Z" fill="#a3a6b1" />
<path d="M400,1104.5 L446.7,1091.7 L451.7,1095.5 L451.7,1105 L411.7,1125 L403.3,1118.3 Z" fill="#c9c5be" />
<circle cx="406.5" cy="1110" r="2.5" fill="url(#gBall)"/>
<circle cx="445" cy="1099.5" r="2.5" fill="url(#gBall)"/>
<ellipse cx="525" cy="1193.3" rx="14.6" ry="19.6" transform="rotate(-8 525 1193.3)" fill="#1a2038"/>
<ellipse cx="525.4" cy="1193.8" rx="12.6" ry="17.4" transform="rotate(-8 525.4 1193.8)" fill="url(#gHole)"/>
<ellipse cx="525.2" cy="1195" rx="1.9" ry="2.7" fill="#05070f"/>
<path d="M491.5,1119.5 L538,1105.9 L555,1112.7 L593.6,1138.8 L603.8,1158 L625.3,1201.1 L612,1207 L581.1,1215.8 L578.8,1223.8 L548.2,1233.5 L547.1,1231.7 L550.5,1217 L555,1198.8 L553.9,1180.7 L548.2,1162.6 L535.8,1150.1 L515.3,1136.5 Z" fill="#0c1229" />
<path d="M491.5,1119.5 L538,1105.9 L555,1112.7 L593.6,1138.8 L603.8,1158 L559.6,1168.2 L509.7,1125.1 Z" fill="#151e42" />
<path d="M559.6,1168.2 L603.8,1158 L625.3,1201.1 L612,1207 L581.1,1215.8 L575,1200 Z" fill="#0f1733" />
<path d="M581.1,1215.8 L612,1207 L625.3,1201.1" fill="none" stroke="#2a3359" stroke-width="1"/>
<ellipse cx="509" cy="1124" rx="3" ry="2.4" fill="#e8e4dc"/><ellipse cx="509.3" cy="1124.6" rx="1.6" ry="1.2" fill="#9c968c"/>
<ellipse cx="547.7" cy="1115" rx="3" ry="2.4" fill="#e8e4dc"/><ellipse cx="548.0" cy="1115.6" rx="1.6" ry="1.2" fill="#9c968c"/>
<ellipse cx="559.3" cy="1168.3" rx="3" ry="2.4" fill="#e8e4dc"/><ellipse cx="559.5999999999999" cy="1168.8999999999999" rx="1.6" ry="1.2" fill="#9c968c"/>
<ellipse cx="598.3" cy="1157.7" rx="3" ry="2.4" fill="#e8e4dc"/><ellipse cx="598.5999999999999" cy="1158.3" rx="1.6" ry="1.2" fill="#9c968c"/>
<path d="M366,1271.6 Q346,1272 339,1282 Q332,1292 339,1303 L351.6,1318.4 L363.6,1335 L400,1326 L400,1252 L375.6,1256 Z" fill="#252b47" />
<path d="M366,1271.6 Q346,1272 339,1282 L339.5,1290 Q350,1282 370,1280 L383,1274 L375.6,1256 Z" fill="#343c5e" />
<ellipse cx="379.2" cy="1284.8" rx="12.2" ry="16.6" transform="rotate(-8 379.2 1284.8)" fill="#0c1024"/>
<ellipse cx="380.2" cy="1285.3" rx="9.8" ry="13.8" transform="rotate(-8 380.2 1285.3)" fill="#11162e"/>
<ellipse cx="378.5" cy="1285.8" rx="1.5" ry="2.1" fill="#05070f"/>
<path d="M397.5,1251.3 L446,1238.7 L447,1314.4 L398,1327.5 Z" fill="#5b6178" />
<path d="M401.7,1262 Q402,1257.5 405.9,1256.5 L440.5,1246.7 Q444.7,1246 444.7,1250 L444.7,1308.8 Q444.5,1312 441,1312.6 L406.4,1322 Q402.3,1322.5 402.1,1318.2 Z" fill="#131a33" />
<path d="M412,1271 L435.8,1264 L438.6,1266.8 L439,1294.8 L435.8,1296.7 L413.4,1302.8 L410.6,1300.4 L412.4,1286.4 L411,1274.3 Z" fill="url(#gRollB)" />
<circle cx="406.4" cy="1273.3" r="3.3" fill="url(#gBall)"/>
<circle cx="440" cy="1261.6" r="3.3" fill="url(#gBall)"/>
<circle cx="405.4" cy="1306" r="3.3" fill="url(#gBall)"/>
<circle cx="440" cy="1294.8" r="3.3" fill="url(#gBall)"/>
<path d="M447.6,1277.6 L465.6,1294.4 L466.8,1308.8 L447.6,1308.8 Z" fill="#2d3453" />
<path d="M447.6,1308.8 L466.8,1308.8 L493.2,1364 L493.2,1404 L476.7,1383.3 L459.6,1354.4 L446.4,1340 L446.4,1332.8 Z" fill="#29304c" />
<path d="M363.6,1335 L399.6,1327 L400.5,1343.3 L404.4,1356.8 L415,1376.7 L424,1383 L383.3,1393.5 L363.6,1354.4 Z" fill="#2d3453" />
<path d="M383.3,1393.5 L424,1383 L424,1442 L385,1460 Z" fill="#29304c" />
<path d="M385,1460 L424,1442 L424,1449 L412,1455 L419,1470 L398,1477 L358,1494 L376,1478 Q384.5,1470 385,1460 Z" fill="#1f253d" />
<path d="M398,1456 L409,1453.5 L411,1460 L401,1464 Z" fill="#cfc9c0" />
<path d="M404.4,1356.8 L446.4,1340 L459.6,1354.4 L463.3,1360 L476.7,1383.3 L493.3,1406.7 L516.7,1426.7 L546.7,1440 L552,1441 L548,1449 L540,1455 L530,1460 L518,1454 L504,1453 L490,1450 L476,1446 L460,1436 L444,1422 L430,1404 L420,1386 L412,1370 Z" fill="url(#gArmL)" />
<clipPath id="clipArmL2"><path d="M404.4,1356.8 L446.4,1340 L459.6,1354.4 L463.3,1360 L476.7,1383.3 L493.3,1406.7 L516.7,1426.7 L546.7,1440 L552,1441 L548,1449 L540,1455 L530,1460 L518,1454 L504,1453 L490,1450 L476,1446 L460,1436 L444,1422 L430,1404 L420,1386 L412,1370 Z"/></clipPath>
<path d="M426,1350 Q448,1398 476,1422 Q505,1442 550,1446" fill="none" stroke="#b9bdca" stroke-width="12" opacity="0.18" filter="url(#soft3)" clip-path="url(#clipArmL2)"/>
<path d="M424,1394 L430,1404 L444,1422 L460,1436 L476,1446 L490,1450 L504,1453 L518,1454 L529,1460 Q536,1470 538,1487 Q538,1501 529,1509 Q523,1515 514,1517 L493.3,1518.3 L476,1506 L466,1504 L450,1498 L434,1486 L420,1470 L412,1455 L424,1449 Z" fill="url(#gArmLF)" />
<path d="M504,1453 L516.7,1450 L536.7,1456.7 Q544,1468 545,1486 Q544,1503 532,1514 L524,1518 L514,1517 Q523,1515 529,1509 Q538,1501 538,1487 Q536,1470 529,1460 L518,1454 Z" fill="#8a90a4" />
<ellipse cx="515" cy="1480" rx="13.5" ry="18.5" transform="rotate(-10 515 1480)" fill="#1a2038"/>
<ellipse cx="515.6" cy="1480.6" rx="11.6" ry="16.3" transform="rotate(-10 515.6 1480.6)" fill="url(#gHole)"/>
<circle cx="471.5" cy="1451" r="1.2" fill="#20253a"/>
<path d="M398.4,1346 L402,1342.4 L441.6,1330.4 L446.4,1332.8 L446.4,1340 L404.4,1356.8 L399.6,1353.2 Z" fill="url(#gPlate)" />
<circle cx="405.1" cy="1348.4" r="2.5" fill="url(#gBall)"/>
<circle cx="440.9" cy="1337.6" r="2.5" fill="url(#gBall)"/>
<path d="M536,1447.4 L555.2,1437.2 L564.3,1440.6 L564.3,1445 L539.4,1454.5 Z" fill="#e4e5ea" />
<path d="M540.5,1454.2 L580.2,1440.6 L610.8,1480.3 L609.7,1484.8 L583.6,1505.2 L550.7,1521.1 L530.3,1530.2 L482.7,1518.8 L474.7,1509.8 L476,1506 L493.3,1518.3 L514,1517 L524,1518 L532,1514 Q544,1503 545,1486 Q544,1468 536.7,1456.7 Z" fill="#0c1229" />
<path d="M540.5,1454.2 L580.2,1440.6 L610.8,1480.3 L568.8,1499.6 L549.6,1466.7 Z" fill="#151e42" />
<path d="M568.8,1499.6 L610.8,1480.3 L609.7,1484.8 L583.6,1505.2 L570,1512 L560,1500 Z" fill="#0f1733" />
<ellipse cx="558.3" cy="1473.3" rx="3.2" ry="2.6" fill="#e8e4dc"/><ellipse cx="558.5999999999999" cy="1473.8999999999999" rx="1.7" ry="1.3" fill="#9c968c"/>
<ellipse cx="588.3" cy="1458.3" rx="3.2" ry="2.6" fill="#e8e4dc"/><ellipse cx="588.5999999999999" cy="1458.8999999999999" rx="1.7" ry="1.3" fill="#9c968c"/>
<path d="M560.9,1475.8 L566.6,1487.1 M592.7,1463.3 L598.3,1473.5" stroke="#070b1c" stroke-width="1.3" fill="none"/>
<circle cx="530" cy="1523.3" r="1.4" fill="#aaa59c"/><circle cx="541.7" cy="1521.7" r="1.2" fill="#aaa59c"/>
<path d="M508,1447 L520,1440 L540,1434 L548,1433.6 L549,1437 L532,1443 L520,1449 L512,1450.5 Z" fill="#8f8a85" />
<path d="M485,1443 L512,1430 L520,1434 L522,1438 L508,1447 L500,1450 Z" fill="url(#gPlate)" />
<circle cx="494.5" cy="1442" r="2.4" fill="url(#gBall)"/>
<circle cx="514.5" cy="1434" r="2.4" fill="url(#gBall)"/>

</g>
<line x1="13" y1="820.5" x2="735.3" y2="820.5" stroke="#70709b" stroke-width="2.1" stroke-dasharray="7.6 2.056"/>
<rect x="0" y="1713.5" width="750" height="1.3" fill="#7f8db8"/>
<rect x="0" y="1717.6" width="750" height="1.4" fill="#6f7fae"/>
<g id="labels">
<line x1="332.5" y1="125" x2="358" y2="201" stroke="#7575a0" stroke-width="1.9"/>
<circle cx="358" cy="201" r="7.3" fill="#74779e"/>
<line x1="134" y1="191" x2="151" y2="241" stroke="#7575a0" stroke-width="1.9"/>
<line x1="134" y1="191" x2="142.5" y2="292.5" stroke="#7575a0" stroke-width="1.9"/>
<circle cx="150.5" cy="241" r="7.3" fill="#74779e"/>
<circle cx="142.5" cy="292.5" r="7.3" fill="#74779e"/>
<line x1="141.5" y1="495" x2="165" y2="427.5" stroke="#7575a0" stroke-width="1.9"/>
<circle cx="165" cy="427.5" r="7.3" fill="#74779e"/>
<line x1="190" y1="622.5" x2="215" y2="552.5" stroke="#7575a0" stroke-width="1.9"/>
<circle cx="215" cy="552.5" r="7.3" fill="#74779e"/>
<line x1="310" y1="701" x2="333" y2="632" stroke="#7575a0" stroke-width="1.9"/>
<circle cx="333" cy="632" r="7.3" fill="#74779e"/>
<line x1="519" y1="764" x2="543.5" y2="692.5" stroke="#7575a0" stroke-width="1.9"/>
<circle cx="543.5" cy="692.5" r="7.3" fill="#74779e"/>
<line x1="525.6" y1="185.5" x2="481.5" y2="308.5" stroke="#7575a0" stroke-width="1.9"/>
<line x1="525.6" y1="185.5" x2="447" y2="495" stroke="#7575a0" stroke-width="1.9"/>
<line x1="525.6" y1="185.5" x2="478.8" y2="657" stroke="#7575a0" stroke-width="1.9"/>
<circle cx="481.5" cy="308.5" r="7.3" fill="#74779e"/>
<circle cx="447" cy="495" r="7.3" fill="#74779e"/>
<circle cx="478.5" cy="657" r="7.3" fill="#74779e"/>
<line x1="609.8" y1="421.5" x2="587" y2="350" stroke="#7575a0" stroke-width="1.9"/>
<circle cx="587" cy="350" r="7.3" fill="#74779e"/>
<line x1="587.5" y1="604" x2="572.5" y2="647.5" stroke="#7575a0" stroke-width="1.9"/>
<rect x="128.5" y="87" width="204.5" height="38.5" rx="5.5" fill="#fff" stroke="#6e6e98" stroke-width="2"/><rect x="131.2" y="89.7" width="199.1" height="33.1" rx="3.5" fill="#6b6b94"/><circle cx="174.3" cy="106.25" r="5.7" fill="none" stroke="#fff" stroke-width="3.6"/><text x="193.3" y="114.1" font-size="22" font-weight="500" fill="#fff" textLength="91.19999999999999" lengthAdjust="spacing">集中润滑</text>
<text x="139" y="143.5" font-size="12.5" fill="#1c1c1c" textLength="188.5" lengthAdjust="spacing">均匀润滑每个润滑点，可选脂润滑</text>
<rect x="12" y="153.5" width="123" height="37.0" rx="5.5" fill="#fff" stroke="#6e6e98" stroke-width="2"/><rect x="14.7" y="156.2" width="117.6" height="31.6" rx="3.5" fill="#6b6b94"/><circle cx="27.5" cy="172.0" r="5.7" fill="none" stroke="#fff" stroke-width="3.6"/><text x="41" y="179.8" font-size="22" font-weight="500" fill="#fff" textLength="84.5" lengthAdjust="spacing">油缸接口</text>
<text x="25" y="211.2" font-size="14.5" fill="#1c1c1c" textLength="101.5" lengthAdjust="spacing">位于顶部和侧面</text>
<rect x="524.3" y="147.3" width="174.70000000000005" height="38.0" rx="5.5" fill="#fff" stroke="#6e6e98" stroke-width="2"/><rect x="527.0" y="150.0" width="169.30000000000004" height="32.6" rx="3.5" fill="#6b6b94"/><circle cx="545" cy="166.3" r="5.7" fill="none" stroke="#fff" stroke-width="3.6"/><text x="557.5" y="174.1" font-size="22" font-weight="500" fill="#fff" textLength="130.5" lengthAdjust="spacing">夹紧臂和中臂</text>
<text x="535" y="206.2" font-size="14.5" fill="#1c1c1c" textLength="184" lengthAdjust="spacing">均热处理硬化至HRC58以上</text>
<rect x="610" y="383.5" width="111.5" height="38.0" rx="5.5" fill="#fff" stroke="#6e6e98" stroke-width="2"/><rect x="612.7" y="386.2" width="106.1" height="32.6" rx="3.5" fill="#6b6b94"/><circle cx="626.5" cy="402.5" r="5.7" fill="none" stroke="#fff" stroke-width="3.6"/><text x="643.2" y="410.3" font-size="22" font-weight="500" fill="#fff" textLength="63.799999999999955" lengthAdjust="spacing">防护器</text>
<text x="615" y="439.5" font-size="12.5" fill="#1c1c1c" textLength="100" lengthAdjust="spacing">三片式铁削防护器</text>
<rect x="15" y="458.5" width="126.5" height="38.0" rx="5.5" fill="#fff" stroke="#6e6e98" stroke-width="2"/><rect x="17.7" y="461.2" width="121.1" height="32.6" rx="3.5" fill="#6b6b94"/><circle cx="30" cy="477.5" r="5.7" fill="none" stroke="#fff" stroke-width="3.6"/><text x="44" y="485.3" font-size="22" font-weight="500" fill="#fff" textLength="87" lengthAdjust="spacing">失压保护</text>
<text x="25" y="516.0" font-size="12.5" fill="#1c1c1c" textLength="113.5" lengthAdjust="spacing">油缸自带失压保护，</text>
<text x="25" y="533.0" font-size="12.5" fill="#1c1c1c" textLength="62" lengthAdjust="spacing">确保安全！</text>
<rect x="43.5" y="587" width="147.0" height="37" rx="5.5" fill="#fff" stroke="#6e6e98" stroke-width="2"/><rect x="46.2" y="589.7" width="141.6" height="31.6" rx="3.5" fill="#6b6b94"/><circle cx="59" cy="605.5" r="5.7" fill="none" stroke="#fff" stroke-width="3.6"/><text x="74" y="613.3" font-size="22" font-weight="500" fill="#fff" textLength="106" lengthAdjust="spacing">全密封设计</text>
<text x="51.5" y="644.5" font-size="12.5" fill="#1c1c1c" textLength="176.5" lengthAdjust="spacing">壳体采用全密封设计，更安全！</text>
<rect x="180" y="666" width="130" height="37" rx="5.5" fill="#fff" stroke="#6e6e98" stroke-width="2"/><rect x="182.7" y="668.7" width="124.6" height="31.6" rx="3.5" fill="#6b6b94"/><circle cx="197.5" cy="684.5" r="5.7" fill="none" stroke="#fff" stroke-width="3.6"/><text x="214" y="692.3" font-size="22" font-weight="500" fill="#fff" textLength="85" lengthAdjust="spacing">防腐涂层</text>
<text x="192.5" y="723.0" font-size="12.5" fill="#1c1c1c" textLength="126.5" lengthAdjust="spacing">经久耐用，不易腐蚀！</text>
<rect x="587" y="566" width="147" height="38" rx="5.5" fill="#fff" stroke="#6e6e98" stroke-width="2"/><rect x="589.7" y="568.7" width="141.6" height="32.6" rx="3.5" fill="#6b6b94"/><circle cx="603.5" cy="585.0" r="5.7" fill="none" stroke="#fff" stroke-width="3.6"/><text x="625" y="592.8" font-size="22" font-weight="500" fill="#fff" textLength="86" lengthAdjust="spacing">超长寿命</text>
<text x="590" y="622.0" font-size="12.5" fill="#1c1c1c" textLength="151" lengthAdjust="spacing">精工制造，轴承经久耐用！</text>
<rect x="384.5" y="727.3" width="134.5" height="38.0" rx="5.5" fill="#fff" stroke="#6e6e98" stroke-width="2"/><rect x="387.2" y="730.0" width="129.1" height="32.6" rx="3.5" fill="#6b6b94"/><circle cx="405.5" cy="746.3" r="5.7" fill="none" stroke="#fff" stroke-width="3.6"/><text x="421.8" y="754.1" font-size="22" font-weight="500" fill="#fff" textLength="85.0" lengthAdjust="spacing">快换轴承</text>
<text x="400" y="783.5" font-size="12.5" fill="#1c1c1c" textLength="187" lengthAdjust="spacing">轴承采用快换设计，更换更方便！</text>
<line x1="336.3" y1="957.5" x2="359" y2="1033.5" stroke="#7575a0" stroke-width="1.9"/>
<circle cx="359" cy="1033.5" r="7.3" fill="#74779e"/>
<line x1="137" y1="1024" x2="154" y2="1074" stroke="#7575a0" stroke-width="1.9"/>
<line x1="137" y1="1024" x2="145.5" y2="1126" stroke="#7575a0" stroke-width="1.9"/>
<circle cx="154" cy="1074" r="7.3" fill="#74779e"/>
<circle cx="145.5" cy="1126" r="7.3" fill="#74779e"/>
<line x1="131" y1="1294" x2="154" y2="1230" stroke="#7575a0" stroke-width="1.9"/>
<circle cx="154" cy="1230" r="7.3" fill="#74779e"/>
<line x1="183" y1="1388" x2="205" y2="1330" stroke="#7575a0" stroke-width="1.9"/>
<circle cx="205" cy="1330" r="7.3" fill="#74779e"/>
<line x1="290" y1="1502" x2="315" y2="1432.5" stroke="#7575a0" stroke-width="1.9"/>
<circle cx="315" cy="1432.5" r="7.3" fill="#74779e"/>
<line x1="492" y1="1562" x2="517.5" y2="1490" stroke="#7575a0" stroke-width="1.9"/>
<circle cx="517.5" cy="1490" r="7.3" fill="#74779e"/>
<line x1="528.5" y1="1019" x2="479" y2="1138.5" stroke="#7575a0" stroke-width="1.9"/>
<line x1="528.5" y1="1019" x2="450" y2="1321" stroke="#7575a0" stroke-width="1.9"/>
<line x1="528.5" y1="1019" x2="482.5" y2="1429" stroke="#7575a0" stroke-width="1.9"/>
<circle cx="479" cy="1138.5" r="7.3" fill="#74779e"/>
<circle cx="450" cy="1321" r="7.3" fill="#74779e"/>
<circle cx="482.5" cy="1429" r="7.3" fill="#74779e"/>
<line x1="613" y1="1250" x2="590" y2="1182.5" stroke="#7575a0" stroke-width="1.9"/>
<circle cx="590" cy="1182.5" r="7.3" fill="#74779e"/>
<line x1="560" y1="1402" x2="546.5" y2="1446" stroke="#7575a0" stroke-width="1.9"/>
<rect x="132" y="921" width="204.3" height="36.5" rx="5.5" fill="#fff" stroke="#6e6e98" stroke-width="2"/><rect x="134.7" y="923.7" width="198.9" height="31.1" rx="3.5" fill="#6b6b94"/><circle cx="176" cy="939.25" r="5.7" fill="none" stroke="#fff" stroke-width="3.6"/><text x="196.5" y="947.1" font-size="22" font-weight="500" fill="#fff" textLength="91.0" lengthAdjust="spacing">集中润滑</text>
<text x="142.5" y="977.0" font-size="12.5" fill="#1c1c1c" textLength="187.5" lengthAdjust="spacing">均匀润滑每个润滑点，可选脂润滑</text>
<rect x="15" y="986" width="122.5" height="38" rx="5.5" fill="#fff" stroke="#6e6e98" stroke-width="2"/><rect x="17.7" y="988.7" width="117.1" height="32.6" rx="3.5" fill="#6b6b94"/><circle cx="31" cy="1005.0" r="5.7" fill="none" stroke="#fff" stroke-width="3.6"/><text x="44" y="1012.8" font-size="22" font-weight="500" fill="#fff" textLength="84.5" lengthAdjust="spacing">油缸接口</text>
<text x="28.5" y="1044.2" font-size="14.5" fill="#1c1c1c" textLength="100.5" lengthAdjust="spacing">位于顶部和侧面</text>
<rect x="527.5" y="981" width="181.5" height="37" rx="5.5" fill="#fff" stroke="#6e6e98" stroke-width="2"/><rect x="530.2" y="983.7" width="176.1" height="31.6" rx="3.5" fill="#6b6b94"/><circle cx="543.5" cy="999.5" r="5.7" fill="none" stroke="#fff" stroke-width="3.6"/><text x="561" y="1007.3" font-size="22" font-weight="500" fill="#fff" textLength="133" lengthAdjust="spacing">夹紧臂和中臂</text>
<text x="543.5" y="1041.1" font-size="17" fill="#1c1c1c" textLength="169.0" lengthAdjust="spacing">均硬化处理，且带防腐</text>
<text x="543.5" y="1065.1" font-size="17" fill="#1c1c1c" textLength="52.5" lengthAdjust="spacing">涂层！</text>
<rect x="613.5" y="1217" width="110.5" height="37" rx="5.5" fill="#fff" stroke="#6e6e98" stroke-width="2"/><rect x="616.2" y="1219.7" width="105.1" height="31.6" rx="3.5" fill="#6b6b94"/><circle cx="630" cy="1235.5" r="5.7" fill="none" stroke="#fff" stroke-width="3.6"/><text x="647.5" y="1243.3" font-size="22" font-weight="500" fill="#fff" textLength="61.5" lengthAdjust="spacing">防护器</text>
<text x="613.5" y="1272.0" font-size="12.5" fill="#1c1c1c" textLength="61.5" lengthAdjust="spacing">铁削防护器</text>
<text x="613.5" y="1290.5" font-size="12.5" fill="#1c1c1c" textLength="117.5" lengthAdjust="spacing">带吹气/喷切削液功能</text>
<rect x="15" y="1260" width="116.5" height="35" rx="5.5" fill="#fff" stroke="#6e6e98" stroke-width="2"/><rect x="17.7" y="1262.7" width="111.1" height="29.6" rx="3.5" fill="#6b6b94"/><circle cx="29" cy="1277.5" r="5.7" fill="none" stroke="#fff" stroke-width="3.6"/><text x="42.5" y="1284.6" font-size="20" font-weight="500" fill="#fff" textLength="80.0" lengthAdjust="spacing">失压保护</text>
<text x="25" y="1312.6" font-size="11.5" fill="#1c1c1c" textLength="104" lengthAdjust="spacing">油缸自带失压保护，</text>
<text x="25" y="1329.1" font-size="11.5" fill="#1c1c1c" textLength="57" lengthAdjust="spacing">确保安全！</text>
<rect x="39.5" y="1388.5" width="148.0" height="38.0" rx="5.5" fill="#fff" stroke="#6e6e98" stroke-width="2"/><rect x="42.2" y="1391.2" width="142.6" height="32.6" rx="3.5" fill="#6b6b94"/><circle cx="55" cy="1407.5" r="5.7" fill="none" stroke="#fff" stroke-width="3.6"/><text x="70" y="1415.3" font-size="22" font-weight="500" fill="#fff" textLength="107.5" lengthAdjust="spacing">全密封设计</text>
<text x="47.5" y="1447.0" font-size="12.5" fill="#1c1c1c" textLength="175.5" lengthAdjust="spacing">壳体采用全密封设计，更安全！</text>
<rect x="162" y="1466" width="128.5" height="37" rx="5.5" fill="#fff" stroke="#6e6e98" stroke-width="2"/><rect x="164.7" y="1468.7" width="123.1" height="31.6" rx="3.5" fill="#6b6b94"/><circle cx="179" cy="1484.5" r="5.7" fill="none" stroke="#fff" stroke-width="3.6"/><text x="195" y="1492.3" font-size="22" font-weight="500" fill="#fff" textLength="85" lengthAdjust="spacing">防腐涂层</text>
<text x="174" y="1521.0" font-size="12.5" fill="#1c1c1c" textLength="124" lengthAdjust="spacing">经久耐用，不易腐蚀！</text>
<rect x="559.5" y="1366" width="146.0" height="36.5" rx="5.5" fill="#fff" stroke="#6e6e98" stroke-width="2"/><rect x="562.2" y="1368.7" width="140.6" height="31.1" rx="3.5" fill="#6b6b94"/><circle cx="575" cy="1384.25" r="5.7" fill="none" stroke="#fff" stroke-width="3.6"/><text x="597.5" y="1392.1" font-size="22" font-weight="500" fill="#fff" textLength="86.0" lengthAdjust="spacing">超长寿命</text>
<text x="562.5" y="1421.0" font-size="12.5" fill="#1c1c1c" textLength="148.5" lengthAdjust="spacing">精工制造，轴承经久耐用！</text>
<rect x="358.5" y="1526" width="134.0" height="37" rx="5.5" fill="#fff" stroke="#6e6e98" stroke-width="2"/><rect x="361.2" y="1528.7" width="128.6" height="31.6" rx="3.5" fill="#6b6b94"/><circle cx="380" cy="1544.5" r="5.7" fill="none" stroke="#fff" stroke-width="3.6"/><text x="396" y="1552.3" font-size="22" font-weight="500" fill="#fff" textLength="85.5" lengthAdjust="spacing">快换轴承</text>
<text x="375" y="1583.5" font-size="12.5" fill="#1c1c1c" textLength="187" lengthAdjust="spacing">轴承采用快换设计，更换更方便！</text>

</g>
</svg>
</body></html>
